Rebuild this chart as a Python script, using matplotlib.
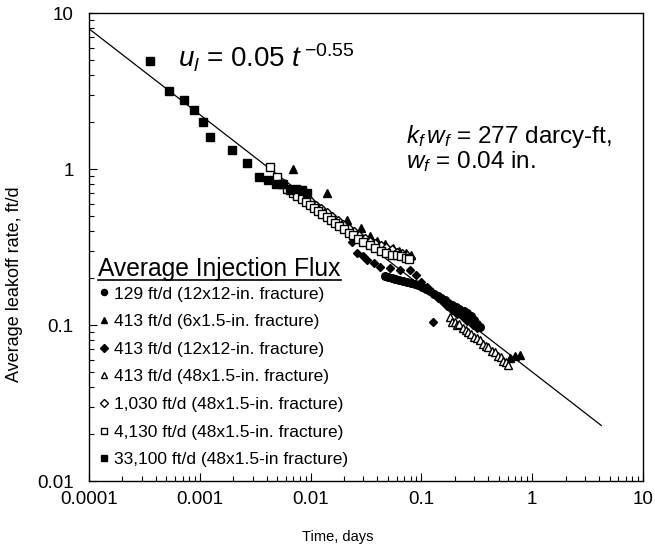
import matplotlib
matplotlib.use('Agg')
import matplotlib.pyplot as plt
from matplotlib.lines import Line2D
import numpy as np

plt.rcParams['font.family'] = ['Liberation Sans', 'DejaVu Sans']
plt.rcParams['mathtext.fontset'] = 'custom'
plt.rcParams['mathtext.rm'] = 'Liberation Sans'
plt.rcParams['mathtext.it'] = 'Liberation Sans:italic'
plt.rcParams['mathtext.bf'] = 'Liberation Sans:bold'

# ---------------- data ----------------
# 129 ft/d (12x12-in. fracture) - filled circles
circ_t = [0.047, 0.050, 0.054, 0.058, 0.0625, 0.068, 0.074, 0.080, 0.087, 0.094,
          0.102, 0.110, 0.120, 0.130, 0.140, 0.150, 0.162, 0.175, 0.190, 0.205,
          0.220, 0.240, 0.260, 0.280, 0.300, 0.320, 0.340]
circ_u = [0.206, 0.203, 0.200, 0.197, 0.194, 0.191, 0.188, 0.186, 0.183, 0.180,
          0.176, 0.171, 0.165, 0.159, 0.154, 0.150, 0.144, 0.139, 0.135, 0.131,
          0.127, 0.123, 0.119, 0.114, 0.108, 0.102, 0.097]

# 413 ft/d (6x1.5-in. fracture) - filled triangles
tri_t = [0.0070, 0.0141, 0.0214, 0.0287, 0.034, 0.040, 0.047, 0.055, 0.063,
         0.072, 0.080, 0.635, 0.705, 0.78]
tri_u = [1.00, 0.70, 0.47, 0.42, 0.37, 0.345, 0.33, 0.31, 0.30,
         0.29, 0.28, 0.0614, 0.0633, 0.0643]

# 413 ft/d (12x12-in. fracture) - filled diamonds
dia_t = [0.0238, 0.0264, 0.0295, 0.0324, 0.037, 0.0426, 0.0524, 0.0644, 0.0794,
         0.090, 0.100, 0.112, 0.125, 0.128, 0.140, 0.155, 0.170, 0.190, 0.210,
         0.235, 0.260, 0.290, 0.320]
dia_u = [0.340, 0.290, 0.275, 0.261, 0.250, 0.236, 0.233, 0.225, 0.225,
         0.210, 0.190, 0.175, 0.160, 0.104, 0.148, 0.140, 0.132, 0.125, 0.118,
         0.112, 0.106, 0.100, 0.095]

# 413 ft/d (48x1.5-in. fracture) - open triangles
otri_t = [0.18, 0.19, 0.20, 0.21, 0.22, 0.235, 0.25, 0.265, 0.28, 0.30, 0.32,
          0.34, 0.36, 0.38, 0.40, 0.43, 0.46, 0.49, 0.52, 0.55, 0.58, 0.60]
otri_u = [0.112, 0.105, 0.104, 0.100, 0.101, 0.095, 0.093, 0.090, 0.088, 0.084,
          0.082, 0.080, 0.076, 0.073, 0.072, 0.068, 0.067, 0.063, 0.062, 0.059,
          0.058, 0.0555]

# 1,030 ft/d (48x1.5-in. fracture) - open diamonds
odia_t = [0.008, 0.009, 0.010, 0.0112, 0.0125, 0.014, 0.0157, 0.0176, 0.0197,
          0.022, 0.0247, 0.0276, 0.031, 0.0345, 0.0385, 0.043, 0.048, 0.054,
          0.060, 0.067, 0.074, 0.080]
odia_u = [0.69, 0.66, 0.62, 0.59, 0.56, 0.53, 0.50, 0.47, 0.445,
          0.42, 0.40, 0.38, 0.36, 0.345, 0.335, 0.325, 0.315, 0.305,
          0.295, 0.29, 0.28, 0.27]

# 4,130 ft/d (48x1.5-in. fracture) - open squares
osq_t = [0.0043, 0.0050, 0.0055, 0.0061, 0.0069, 0.0076, 0.0083, 0.0090, 0.0098,
         0.0107, 0.0117, 0.0128, 0.0140, 0.0153, 0.0167, 0.0182, 0.020, 0.022,
         0.024, 0.027, 0.030, 0.034, 0.038, 0.043, 0.048, 0.054, 0.060, 0.066,
         0.072, 0.078]
osq_u = [1.03, 0.89, 0.80, 0.74, 0.70, 0.67, 0.64, 0.615, 0.59,
         0.565, 0.54, 0.515, 0.49, 0.47, 0.45, 0.43, 0.41, 0.39,
         0.375, 0.355, 0.34, 0.325, 0.31, 0.30, 0.29, 0.28, 0.28, 0.275,
         0.27, 0.265]

# 33,100 ft/d (48x1.5-in fracture) - filled squares
sq_t = [3.56e-4, 5.28e-4, 7.2e-4, 8.9e-4, 1.07e-3, 1.24e-3, 1.96e-3, 2.67e-3,
        3.43e-3, 4.14e-3, 4.89e-3, 5.66e-3, 6.55e-3, 7.4e-3, 8.4e-3, 9.3e-3]
sq_u = [4.92, 3.16, 2.77, 2.39, 2.00, 1.60, 1.32, 1.09,
        0.889, 0.849, 0.80, 0.80, 0.733, 0.75, 0.73, 0.70]

series_labels = ['129 ft/d (12x12-in. fracture)',
                 '413 ft/d (6x1.5-in. fracture)',
                 '413 ft/d (12x12-in. fracture)',
                 '413 ft/d (48x1.5-in. fracture)',
                 '1,030 ft/d (48x1.5-in. fracture)',
                 '4,130 ft/d (48x1.5-in. fracture)',
                 '33,100 ft/d (48x1.5-in fracture)']

# power-law fit  u_l = 0.05 t^-0.55
fit_coef = 0.05
fit_exp = -0.55
fit_t_start = 1e-4
fit_t_end = 4.2

x_ticks = [1e-4, 1e-3, 1e-2, 1e-1, 1, 10]
x_tick_labels = ['0.0001', '0.001', '0.01', '0.1', '1', '10']
y_ticks = [0.01, 0.1, 1, 10]
y_tick_labels = ['0.01', '0.1', '1', '10']

# ---------------- figure ----------------
fig = plt.figure(figsize=(6.55, 5.52), dpi=100)
ax = fig.add_axes([0.1359, 0.1286, 0.8458, 0.8478])
ax.set_xscale('log')
ax.set_yscale('log')

t_fit = np.logspace(np.log10(fit_t_start), np.log10(fit_t_end), 200)
ax.plot(t_fit, fit_coef * t_fit ** fit_exp, color='black', lw=0.9, zorder=1)

k = dict(linestyle='none', color='black', markeredgecolor='black')
h1, = ax.plot(circ_t, circ_u, marker='o', ms=5.5, mfc='black', **k)
h2, = ax.plot(tri_t, tri_u, marker='^', ms=6, mfc='black', **k)
h3, = ax.plot(dia_t, dia_u, marker='D', ms=4.5, mfc='black', **k)
h4, = ax.plot(otri_t, otri_u, marker='^', ms=6, mfc='white', mew=1.0, **k)
h5, = ax.plot(odia_t, odia_u, marker='D', ms=4.5, mfc='white', mew=1.0, **k)
h6, = ax.plot(osq_t, osq_u, marker='s', ms=5.5, mfc='white', mew=1.0, **k)
h7, = ax.plot(sq_t, sq_u, marker='s', ms=6, mfc='black', **k)

ax.set_xlim(1e-4, 10)
ax.set_ylim(0.01, 10)
ax.set_xticks(x_ticks)
ax.set_xticklabels(x_tick_labels)
ax.set_yticks(y_ticks)
ax.set_yticklabels(y_tick_labels)
ax.tick_params(which='both', direction='in', top=False, right=False,
               labelsize=13.5, width=0.8)
ax.tick_params(axis='x', which='major', length=6, pad=7)
ax.tick_params(axis='y', which='major', length=6, pad=11)
ax.tick_params(which='minor', length=3.5)
for s in ax.spines.values():
    s.set_linewidth(1.0)

ax.set_xlabel('Time, days', fontsize=10.5)
ax.xaxis.set_label_coords(0.449, -0.105)
ax.set_ylabel('Average leakoff rate, ft/d', fontsize=13)
ax.yaxis.set_label_coords(-0.12, 0.42)

ax.text(0.161, 0.905, r'$u_l$ = 0.05 $t^{\,\mathrm{-0.55}}$', transform=ax.transAxes,
        fontsize=20, va='center', ha='left')
ax.text(0.572, 0.737, r'$k_f\,w_f$ = 277 darcy-ft,', transform=ax.transAxes,
        fontsize=17.5, va='center', ha='left')
ax.text(0.572, 0.682, r'$w_f$ = 0.04 in.', transform=ax.transAxes,
        fontsize=17.5, va='center', ha='left')

leg = ax.legend([h1, h2, h3, h4, h5, h6, h7], series_labels,
                loc='lower left', bbox_to_anchor=(-0.005, 0.003),
                frameon=False, fontsize=12.5, title='Average Injection Flux',
                title_fontsize=17.7, alignment='left', handlelength=0.6,
                handletextpad=0.3, labelspacing=0.72, borderpad=0.2,
                markerscale=0.8)
leg._legend_box.sep = 4

fig.canvas.draw()
bb = leg.get_title().get_window_extent().transformed(fig.transFigure.inverted())
fig.add_artist(Line2D([bb.x0, bb.x1], [bb.y0 + 0.001, bb.y0 + 0.001],
                      transform=fig.transFigure, color='black', lw=1.2))

fig.savefig('out.png', dpi=100)
